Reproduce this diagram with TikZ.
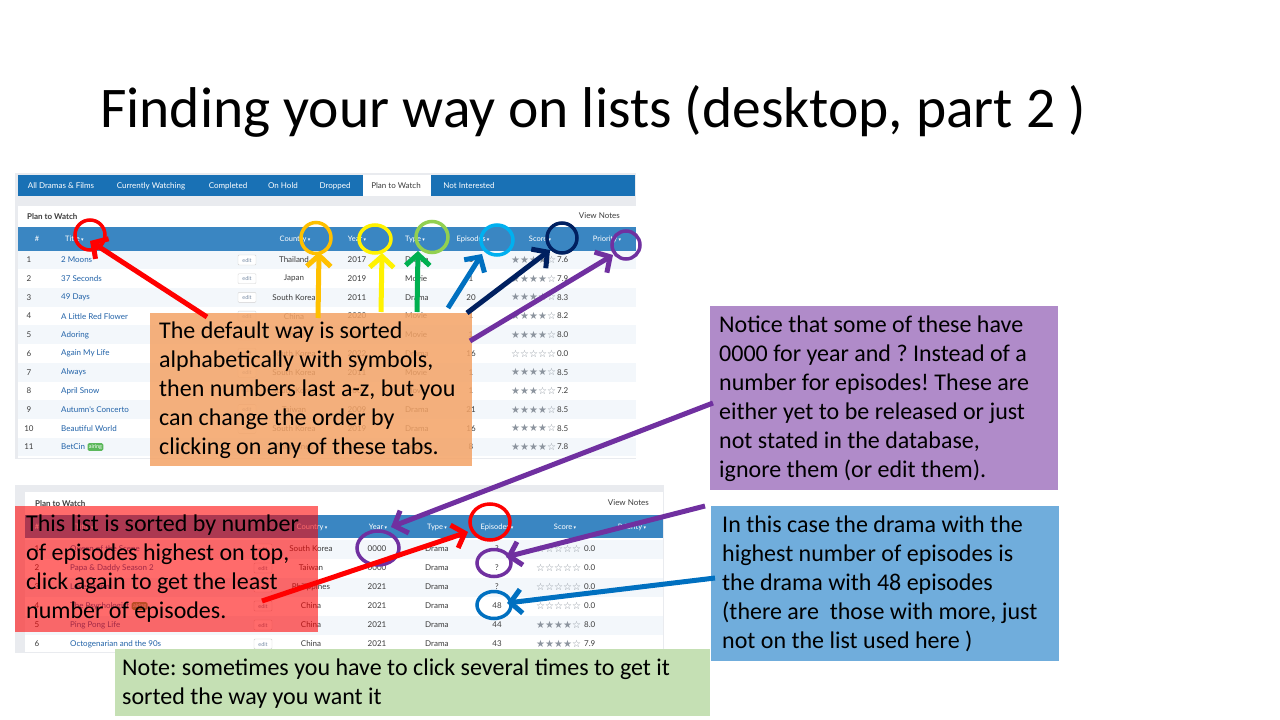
\documentclass[tikz,border=0pt]{standalone}
\usepackage{fontspec}
\setmainfont{Carlito}
\newfontfamily\lato{Lato}
\newfontfamily\symf{DejaVu Sans}
\usetikzlibrary{arrows.meta,shapes.geometric}
\frenchspacing
\definecolor{tabblue}{RGB}{25,113,181}
\definecolor{hdrblue}{RGB}{58,134,194}
\definecolor{rowalt}{RGB}{243,247,251}
\definecolor{pagegray}{RGB}{233,235,239}
\definecolor{linkblue}{RGB}{33,98,168}
\definecolor{celltext}{RGB}{60,60,60}
\definecolor{stargray}{RGB}{140,148,158}
\definecolor{editgray}{RGB}{120,140,165}
\definecolor{airgreen}{RGB}{92,184,92}
\definecolor{orangefill}{RGB}{244,163,102}
\definecolor{purplefill}{RGB}{176,139,201}
\definecolor{bluefill}{RGB}{112,173,220}
\definecolor{greenfill}{RGB}{197,224,180}
\definecolor{gold}{RGB}{255,192,0}
\definecolor{ltgreen}{RGB}{146,208,80}
\definecolor{dkgreen}{RGB}{0,176,80}
\definecolor{ltblue}{RGB}{0,176,240}
\definecolor{midblue}{RGB}{0,112,192}
\definecolor{navy}{RGB}{0,32,96}
\definecolor{mypurple}{RGB}{112,48,160}
\newcommand\mycaret{\,{\symf\fontsize{5}{5}\selectfont ▾}}
\newcommand\mystars[1]{{\symf\ifcase#1 ☆☆☆☆☆\or ★☆☆☆☆\or ★★☆☆☆\or ★★★☆☆\or ★★★★☆\or ★★★★★\fi}}
\tikzset{
  tabtxt/.style={font=\lato\fontsize{8}{9}\selectfont, text=white, inner sep=0},
  hdrtxt/.style={font=\lato\fontsize{7.5}{9}\selectfont, text=white, inner sep=0},
  cell/.style={font=\lato\fontsize{8}{9}\selectfont, text=celltext, inner sep=0},
  namecell/.style={cell, text=linkblue, anchor=west},
  editbtn/.style={draw=black!18, fill=white, rounded corners=1pt, font=\lato\fontsize{5.5}{6}\selectfont, text=editgray, minimum width=18pt, minimum height=10pt, inner sep=0},
  starcell/.style={font=\fontsize{10}{10}\selectfont, text=stargray, inner sep=0, anchor=west},
  badge/.style={fill=airgreen, rounded corners=1.5pt, text=white, font=\lato\fontsize{5.5}{6}\selectfont, inner sep=1.3pt},
  boxtext/.style={font=\fontsize{24}{29}\selectfont, align=left, inner sep=0, anchor=north west, text=black},
  ring/.style={draw, ellipse, line width=3.5pt, inner sep=0},
  pointer/.style={line width=5pt, -{Straight Barb[length=11pt,width=24pt]}},
}
\begin{document}
\begin{tikzpicture}[x=1pt,y=-1pt]
\useasboundingbox (0,0) rectangle (1280,720);
\fill[white] (0,0) rectangle (1280,720);

% title
\node[font=\fontsize{57.5}{70}\selectfont, anchor=base west, inner sep=0] (title) at (100,127) {Finding your way on lists (desktop, part 2 )};

% ---------- top screenshot ----------
\fill[pagegray] (15,173) rectangle (636,459);
\fill[tabblue] (18,175) rectangle (635,196);
\fill[white] (363,175) rectangle (431,196);
\fill[white] (18,206) rectangle (636,458);
\fill[hdrblue] (18,227) rectangle (636,251);
\node[tabtxt] (tab1) at (61,186) {All Dramas \& Films};
\node[tabtxt] (tab2) at (151,186) {Currently Watching};
\node[tabtxt] (tab3) at (228,186) {Completed};
\node[tabtxt] (tab4) at (283,186) {On Hold};
\node[tabtxt] (tab5) at (335,186) {Dropped};
\node[tabtxt, text=celltext] (tab6) at (396,186) {Plan to Watch};
\node[tabtxt] (tab7) at (469,186) {Not Interested};
\node[cell, anchor=west, font=\lato\bfseries\fontsize{8}{9}\selectfont] (tplan) at (27,217) {Plan to Watch};
\node[cell, anchor=east] (tnotes) at (620,216) {View Notes};
\node[hdrtxt] (th1) at (37,239) {\#};
\node[hdrtxt, anchor=west] (th2) at (65,239) {Title\mycaret};
\node[hdrtxt] (th3) at (295,239) {Country\mycaret};
\node[hdrtxt] (th4) at (357,239) {Year\mycaret};
\node[hdrtxt] (th5) at (415,239) {Type\mycaret};
\node[hdrtxt] (th6) at (473,239) {Episodes\mycaret};
\node[hdrtxt] (th7) at (540,239) {Score\mycaret};
\node[hdrtxt] (th8) at (607,239) {Priority\mycaret};
\foreach \i/\nm/\ct/\yr/\ty/\ep/\st/\sc in {
 1/2 Moons/Thailand/2017/Drama/1/4/7.6,
 2/37 Seconds/Japan/2019/Movie/1/4/7.9,
 3/49 Days/South Korea/2011/Drama/20/4/8.3,
 4/A Little Red Flower/China/2020/Movie/1/4/8.2,
 5/Adoring/China/2019/Movie/1/4/8.0,
 6/Again My Life/South Korea/2022/Drama/16/0/0.0,
 7/Always/South Korea/2011/Movie/1/4/8.5,
 8/April Snow/South Korea/2005/Movie/1/3/7.2,
 9/Autumn's Concerto/Taiwan/2009/Drama/21/4/8.5,
 10/Beautiful World/South Korea/2019/Drama/16/4/8.5,
 11/BetCin/Philippines/2021/Drama/8/4/7.8}
{
 \pgfmathsetmacro\yy{260+(\i-1)*18.7}
 \ifodd\i \fill[rowalt] (18,\yy-9.35) rectangle (636,\yy+9.35); \fi
 \node[cell] (tnum\i) at (29,\yy) {\i};
 \node[namecell] (tname\i) at (61,\yy) {\nm};
 \node[editbtn] (tedit\i) at (247,\yy) {edit};
 \node[cell] (tcty\i) at (294,\yy) {\ct};
 \node[cell] (tyr\i) at (357,\yy) {\yr};
 \node[cell, anchor=west] (tty\i) at (405,\yy) {\ty};
 \node[cell] (tep\i) at (471,\yy) {\ep};
 \node[starcell] (tst\i) at (511,\yy) {\mystars{\st}};
 \node[cell, anchor=west] (tsc\i) at (557,\yy) {\sc};
}
\node[badge, anchor=west] (tair) at ([xshift=2pt]tname11.east) {airing};

% ---------- bottom screenshot ----------
\fill[pagegray] (15,485) rectangle (664,653);
\fill[white] (25,492) rectangle (663,652);
\fill[hdrblue] (25,515) rectangle (663,538);
\node[cell, anchor=west, font=\lato\bfseries\fontsize{8}{9}\selectfont] (bplan) at (35,504) {Plan to Watch};
\node[cell, anchor=east] (bnotes) at (649,503) {View Notes};
\node[hdrtxt] (bh1) at (37,527) {\#};
\node[hdrtxt, anchor=west] (bh2) at (75,527) {Title\mycaret};
\node[hdrtxt] (bh3) at (312,527) {Country\mycaret};
\node[hdrtxt] (bh4) at (378,527) {Year\mycaret};
\node[hdrtxt] (bh5) at (437,527) {Type\mycaret};
\node[hdrtxt] (bh6) at (497,527) {Episodes\mycaret};
\node[hdrtxt] (bh7) at (565,527) {Score\mycaret};
\node[hdrtxt] (bh8) at (632,527) {Priority\mycaret};
\foreach \i/\nm/\ct/\yr/\ep/\st/\sc in {
 1/Queen of the Scene/South Korea/0000/?/0/0.0,
 2/Papa \& Daddy Season 2/Taiwan/0000/?/0/0.0,
 3/Love Storm/Philippines/2021/?/0/0.0,
 4/The Psychologist/China/2021/48/0/0.0,
 5/Ping Pong Life/China/2021/44/4/8.0,
 6/Octogenarian and the 90s/China/2021/43/4/7.9}
{
 \pgfmathsetmacro\yy{549+(\i-1)*19}
 \ifodd\i \fill[rowalt] (25,\yy-9.5) rectangle (663,\yy+9.5); \fi
 \node[cell] (bnum\i) at (37,\yy) {\i};
 \node[namecell] (bname\i) at (70,\yy) {\nm};
 \node[editbtn] (bedit\i) at (263,\yy) {edit};
 \node[cell] (bcty\i) at (311,\yy) {\ct};
 \node[cell] (byr\i) at (377,\yy) {\yr};
 \node[cell, anchor=west] (bty\i) at (425,\yy) {Drama};
 \node[cell] (bep\i) at (497,\yy) {\ep};
 \node[starcell] (bst\i) at (536,\yy) {\mystars{\st}};
 \node[cell, anchor=west] (bsc\i) at (584,\yy) {\sc};
}
\node[badge, anchor=west] (bair) at ([xshift=2pt]bname4.east) {airing};

% ---------- callout boxes ----------
\node[fill=orangefill, fill opacity=0.85, minimum width=322pt, minimum height=153pt, anchor=north west, inner sep=0] (obox) at (150,313) {};
\node[boxtext] (otext) at (159,322) {The default way is sorted\\alphabetically with symbols,\\then numbers last a-z, but you\\can change the order by\\clicking on any of these tabs.};

\node[fill=purplefill, minimum width=348pt, minimum height=184pt, anchor=north west, inner sep=0] (pbox) at (710,306) {};
\node[boxtext] (ptext) at (719,316) {Notice that some of these have\\0000 for year and ? Instead of a\\number for episodes! These are\\either yet to be released or just\\not stated in the database,\\ignore them (or edit them).};

\node[fill=bluefill, minimum width=348pt, minimum height=155pt, anchor=north west, inner sep=0] (bbox) at (711,506) {};
\node[boxtext] (btext) at (722,516) {In this case the drama with the\\highest number of episodes is\\the drama with 48 episodes\\(there are~ those with more, just\\not on the list used here )};

\node[fill=red, fill opacity=0.58, minimum width=303pt, minimum height=126pt, anchor=north west, inner sep=0] (rbox) at (15,506) {};
\node[boxtext] (rtext) at (26,515) {This list is sorted by number\\of episodes highest on top,\\click again to get the least\\number of episodes.};

\node[fill=greenfill, minimum width=595pt, minimum height=67pt, anchor=north west, inner sep=0] (gbox) at (115,649) {};
\node[boxtext] (gtext) at (122,659) {Note: sometimes you have to click several times to get it\\sorted the way you want it};

% ---------- circles ----------
\node[ring, red, minimum width=30pt, minimum height=30pt] (c1) at (90,235) {};
\node[ring, gold, minimum width=30pt, minimum height=31pt] (c2) at (316,238) {};
\node[ring, yellow, minimum width=32pt, minimum height=28pt] (c3) at (375,239) {};
\node[ring, ltgreen, minimum width=32pt, minimum height=31pt] (c4) at (432,237) {};
\node[ring, ltblue, minimum width=32pt, minimum height=30pt] (c5) at (497,240) {};
\node[ring, navy, minimum width=30pt, minimum height=30pt] (c6) at (562,238) {};
\node[ring, mypurple, minimum width=28pt, minimum height=28pt] (c7) at (626,245) {};
\node[ring, red, minimum width=40pt, minimum height=36pt] (c8) at (490,522) {};
\node[ring, mypurple, minimum width=42pt, minimum height=34pt] (c9) at (378,548) {};
\node[ring, mypurple, minimum width=34pt, minimum height=27pt] (c10) at (494,563) {};
\node[ring, midblue, minimum width=34pt, minimum height=27pt] (c11) at (494,605) {};

% ---------- arrow ends ----------
\coordinate (s1) at (207,317); \coordinate (e1) at (90,241);
\coordinate (s2) at (318,318); \coordinate (e2) at (319,252);
\coordinate (s3) at (381,312); \coordinate (e3) at (382,253);
\coordinate (s4) at (417,312); \coordinate (e4) at (418,251);
\coordinate (s5) at (448,308); \coordinate (e5) at (482,254);
\coordinate (s6) at (467,313); \coordinate (e6) at (550,250);
\coordinate (s7) at (470,341); \coordinate (e7) at (613,255);
\coordinate (s8) at (262,601); \coordinate (e8) at (468,532);
\coordinate (s9) at (713,403); \coordinate (e9) at (391,527);
\coordinate (s10) at (705,506); \coordinate (e10) at (506,557);
\coordinate (s11) at (715,578); \coordinate (e11) at (507,603);

\draw[pointer, red] (s1) -- (e1);
\draw[pointer, gold] (s2) -- (e2);
\draw[pointer, yellow] (s3) -- (e3);
\draw[pointer, dkgreen] (s4) -- (e4);
\draw[pointer, midblue] (s5) -- (e5);
\draw[pointer, navy] (s6) -- (e6);
\draw[pointer, mypurple] (s7) -- (e7);
\draw[pointer, red] (s8) -- (e8);
\draw[pointer, mypurple] (s9) -- (e9);
\draw[pointer, mypurple] (s10) -- (e10);
\draw[pointer, midblue] (s11) -- (e11);
\end{tikzpicture}
\end{document}
